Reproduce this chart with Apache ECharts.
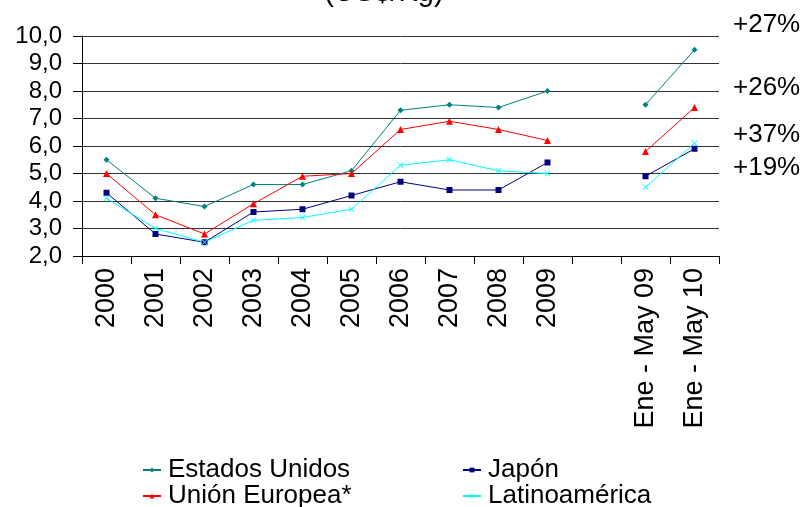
<!DOCTYPE html>
<html>
<head>
<meta charset="utf-8">
<script src="https://cdn.jsdelivr.net/npm/echarts@6/dist/echarts.min.js"></script>
<style>
html,body{margin:0;padding:0;background:#fff;}
#chart{width:805px;height:507px;}
</style>
</head>
<body>
<div id="chart"></div>
<script>
var categories = ['2000','2001','2002','2003','2004','2005','2006','2007','2008','2009','','Ene - May 09','Ene - May 10'];
var estadosUnidos = [5.5,4.1,3.8,4.6,4.6,5.1,7.3,7.5,7.4,8.0,null,7.5,9.5];
var unionEuropea = [5.0,3.5,2.8,3.9,4.9,5.0,6.6,6.9,6.6,6.2,null,5.8,7.4];
var japon = [4.3,2.8,2.5,3.6,3.7,4.2,4.7,4.4,4.4,5.4,null,4.9,5.9];
var latinoamerica = [4.1,3.0,2.5,3.3,3.4,3.7,5.3,5.5,5.1,5.0,null,4.5,6.1];
var seriesNames = ['Estados Unidos','Unión Europea*','Japón','Latinoamérica'];
var changeLabels = ['+27%','+26%','+37%','+19%'];
var titleText = '(US$/Kg)';

var FONT = '"Liberation Sans", Arial, sans-serif';
var chart = echarts.init(document.getElementById('chart'), null, {renderer:'canvas'});
var crossPath = 'path://M0,1 L1,0 L5,4 L9,0 L10,1 L6,5 L10,9 L9,10 L5,6 L1,10 L0,9 L4,5 Z';

function mkSeries(name, data, color, symbol, size){
  return {
    name: name, type: 'line', data: data, connectNulls: false,
    symbol: symbol, symbolSize: size, showSymbol: true,
    lineStyle: {color: color, width: 1},
    itemStyle: {color: color},
    emphasis: {disabled: true}
  };
}

var annY = [25, 88, 135, 168];
var graphics = [{
  type: 'text', x: 384, y: 7,
  style: {text: titleText, font: '29px ' + FONT, fill: '#000', align: 'center', verticalAlign: 'bottom'}
}];
changeLabels.forEach(function(t, i){
  graphics.push({type:'text', x: 733, y: annY[i],
    style:{text: t, font: '26px ' + FONT, fill:'#000', align: 'left', verticalAlign: 'middle'}});
});

function legendAt(name, left, top){
  return {
    data: [name], left: left, top: top, orient: 'horizontal',
    itemWidth: 18, itemHeight: 6, itemGap: 0, padding: 0,
    textStyle: {fontFamily: FONT, fontSize: 26, color: '#000', padding:[0,0,0,2]},
    selectedMode: false
  };
}

chart.setOption({
  animation: false,
  backgroundColor: '#fff',
  grid: {left: 82, right: 86, top: 36, bottom: 251, containLabel: false},
  xAxis: {
    type: 'category', data: categories, boundaryGap: true,
    axisLine: {show: true, lineStyle: {color: '#000', width: 1}},
    axisTick: {show: true, interval: 0, length: 8, lineStyle: {color: '#000'}},
    axisLabel: {interval: 0, rotate: 90, margin: 12, fontFamily: FONT, fontSize: 27, color: '#000'},
    splitLine: {show: false}
  },
  yAxis: {
    type: 'value', min: 2, max: 10, interval: 1,
    axisLine: {show: true, lineStyle: {color: '#000', width: 1}},
    axisTick: {show: true, length: 9, lineStyle: {color: '#000'}},
    axisLabel: {margin: 20, fontFamily: FONT, fontSize: 24, color: '#000',
      formatter: function(v){ return v.toFixed(1).replace('.', ','); }},
    splitLine: {show: true, lineStyle: {color: '#333', width: 1}}
  },
  legend: [
    legendAt(seriesNames[0], 142, 457),
    legendAt(seriesNames[2], 462, 457),
    legendAt(seriesNames[1], 142, 483),
    legendAt(seriesNames[3], 462, 483)
  ],
  graphic: graphics,
  series: [
    mkSeries(seriesNames[0], estadosUnidos, '#008080', 'diamond', 6),
    mkSeries(seriesNames[1], unionEuropea, '#FF0000', 'triangle', 7),
    mkSeries(seriesNames[2], japon, '#000080', 'rect', 6),
    mkSeries(seriesNames[3], latinoamerica, '#00FFFF', crossPath, 6)
  ]
});
</script>
</body>
</html>
